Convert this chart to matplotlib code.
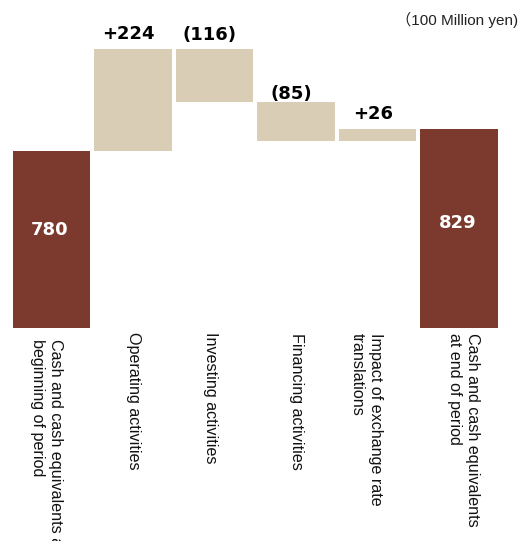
import numpy as np
import matplotlib
matplotlib.use("Agg")
import matplotlib.pyplot as plt
from matplotlib.transforms import blended_transform_factory, offset_copy

# ---- data ----
categories = [
    "Cash and cash equivalents at\nbeginning of period",
    "Operating activities",
    "Investing activities",
    "Financing activities",
    "Impact of exchange rate\ntranslations",
    "Cash and cash equivalents\nat end of period",
]
start_value = 780
changes = [224, -116, -85, 26]
end_value = 829
change_labels = ["+224", "(116)", "(85)", "+26"]
unit_label = "（100 Million yen)"

dark = "#7B3A2D"
beige = "#D9CDB5"

W, H = 521, 541
fig = plt.figure(figsize=(W / 100, H / 100), dpi=100)

# axes spanning full width; bottom at bar baseline
ax_top_px, ax_bot_px = 20, 327.7
ax = fig.add_axes([0, 1 - ax_bot_px / H, 1, (ax_bot_px - ax_top_px) / H])
ax.axis("off")

n = len(categories)
x = np.arange(n)
cum = start_value + np.cumsum(changes)
prev = np.concatenate([[start_value], cum[:-1]])
lows = np.minimum(prev, cum)
highs = np.maximum(prev, cum)

width = 0.945
ax.bar(x[0], start_value, width=width, color=dark)
ax.bar(x[1:5], highs - lows, bottom=lows, width=width, color=beige)
ax.bar(x[5], end_value, width=width, color=dark)

# axis limits: bar centre spacing ~81.5px, first centre at 51.5px
sp = 81.5
ax.set_xlim(-51.5 / sp, (W - 51.5) / sp)
ax.set_ylim(393, 1067)

# change labels above bars
gaps = [6, 5, -1, 6]
for i, (lab, hi) in enumerate(zip(change_labels, highs)):
    tr = offset_copy(ax.transData, fig=fig, x=-4.5 * 0.72, y=gaps[i] * 0.72, units="points")
    ax.text(x[i + 1], hi, lab, transform=tr, ha="center", va="bottom",
            fontsize=13, fontweight="bold", color="black", family="DejaVu Sans")

# totals inside bars
for xi, v, dy in [(x[0], start_value, 9), (x[5], end_value, 5)]:
    tr = offset_copy(ax.transData, fig=fig, x=-1.5 * 0.72, y=dy * 0.72, units="points")
    ax.text(xi, (393 + v) / 2, str(v), transform=tr, ha="center", va="center",
            fontsize=13, fontweight="bold", color="white", family="DejaVu Sans")

# category labels, rotated, below the axes
nudges_px = [-5, 1, -4, 1, -11, 5]
tops_px = [339, 332, 332, 333, 333, 333]
btr = blended_transform_factory(ax.transData, fig.transFigure)
for i, lab in enumerate(categories):
    tr = offset_copy(btr, fig=fig, x=nudges_px[i] * 0.72, y=0, units="points")
    ax.text(x[i], 1 - tops_px[i] / H, lab, transform=tr, rotation=-90,
            ha="center", va="top", multialignment="left", rotation_mode="default",
            fontsize=11.6, family="Liberation Sans", color="#111111", linespacing=1.25,
            clip_on=False)

fig.text(518 / W, 1 - 20 / H, unit_label, ha="right", va="center",
         fontsize=11, family=["Liberation Sans", "Noto Sans CJK JP"], color="#222222")

fig.savefig("out.png", dpi=100)
